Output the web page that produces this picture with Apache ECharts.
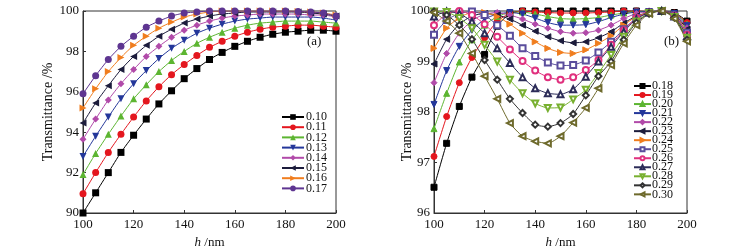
<!DOCTYPE html>
<html style="height: 100%">
<head>
	<meta charset="utf-8">
</head>
<body style="height: 100%; margin: 0; background: #fff">
<div id="container" style="width: 750px; height: 246px"></div>
<script type="text/javascript" src="https://cdn.jsdelivr.net/npm/echarts@6/dist/echarts.min.js"></script>
<script type="text/javascript">
    var dom = document.getElementById("container");
    var myChart = echarts.init(dom);

    // h /nm
    var hx = [100, 105, 110, 115, 120, 125, 130, 135, 140, 145, 150, 155, 160, 165, 170, 175, 180, 185, 190, 195, 200];

    // panel (a)
    var namesA = ['0.10', '0.11', '0.12', '0.13', '0.14', '0.15', '0.16', '0.17'];
    var a010 = [90.0, 91.0, 92.0, 93.0, 93.85, 94.65, 95.4, 96.05, 96.65, 97.15, 97.6, 97.95, 98.25, 98.5, 98.7, 98.85, 98.95, 99.0, 99.05, 99.05, 99.0];
    var a011 = [90.95, 92.0, 93.0, 93.9, 94.75, 95.55, 96.25, 96.85, 97.35, 97.8, 98.2, 98.5, 98.75, 98.95, 99.1, 99.2, 99.25, 99.3, 99.3, 99.25, 99.2];
    var a012 = [91.9, 92.95, 93.9, 94.8, 95.65, 96.35, 97.0, 97.55, 98.0, 98.4, 98.7, 98.95, 99.15, 99.3, 99.4, 99.45, 99.5, 99.5, 99.5, 99.45, 99.4];
    var a013 = [92.8, 93.8, 94.75, 95.65, 96.4, 97.05, 97.65, 98.15, 98.55, 98.9, 99.15, 99.35, 99.5, 99.6, 99.65, 99.7, 99.7, 99.7, 99.7, 99.65, 99.55];
    var a014 = [93.65, 94.65, 95.6, 96.4, 97.1, 97.75, 98.25, 98.7, 99.05, 99.3, 99.5, 99.65, 99.75, 99.8, 99.85, 99.85, 99.85, 99.85, 99.8, 99.8, 99.7];
    var a015 = [94.45, 95.45, 96.3, 97.1, 97.75, 98.3, 98.75, 99.1, 99.4, 99.6, 99.75, 99.85, 99.9, 99.95, 99.95, 99.95, 99.95, 99.95, 99.9, 99.85, 99.75];
    var a016 = [95.2, 96.15, 97.0, 97.7, 98.3, 98.75, 99.15, 99.45, 99.7, 99.85, 99.95, 100, 100, 100, 100, 100, 100, 99.98, 99.95, 99.9, 99.8];
    var a017 = [95.9, 96.8, 97.6, 98.25, 98.75, 99.2, 99.5, 99.75, 99.9, 99.95, 100, 100, 100, 100, 100, 100, 100, 99.98, 99.95, 99.9, 99.75];

    // panel (b)
    var namesB = ['0.18', '0.19', '0.20', '0.21', '0.22', '0.23', '0.24', '0.25', '0.26', '0.27', '0.28', '0.29', '0.30'];
    var b018 = [96.51, 97.38, 98.11, 98.69, 99.14, 99.7, 99.95, 100, 100, 100, 100, 100, 100, 100, 100, 100, 100, 99.99, 100, 99.97, 99.8];
    var b019 = [97.12, 97.91, 98.58, 99.08, 99.47, 99.8, 99.95, 100, 99.98, 99.97, 99.96, 99.96, 99.96, 99.97, 99.98, 100, 100, 99.99, 100, 99.96, 99.77];
    var b020 = [97.67, 98.37, 98.99, 99.43, 99.72, 99.89, 99.97, 99.98, 99.94, 99.89, 99.85, 99.84, 99.85, 99.87, 99.92, 99.96, 99.99, 99.99, 100, 99.96, 99.74];
    var b021 = [98.15, 98.82, 99.3, 99.62, 99.84, 99.94, 99.97, 99.94, 99.86, 99.77, 99.72, 99.72, 99.73, 99.79, 99.87, 99.94, 99.98, 99.99, 100, 99.95, 99.71];
    var b022 = [98.58, 99.16, 99.56, 99.81, 99.94, 99.97, 99.92, 99.84, 99.74, 99.66, 99.59, 99.56, 99.57, 99.62, 99.72, 99.85, 99.95, 99.98, 100, 99.94, 99.67];
    var b023 = [98.95, 99.44, 99.74, 99.9, 99.95, 99.92, 99.84, 99.72, 99.6, 99.49, 99.41, 99.37, 99.39, 99.47, 99.59, 99.76, 99.9, 99.97, 100, 99.93, 99.64];
    var b024 = [99.26, 99.66, 99.87, 99.97, 99.97, 99.89, 99.74, 99.56, 99.39, 99.26, 99.18, 99.16, 99.23, 99.36, 99.51, 99.72, 99.89, 99.97, 100, 99.92, 99.6];
    var b025 = [99.53, 99.82, 99.95, 99.99, 99.92, 99.72, 99.51, 99.26, 99.11, 98.98, 98.92, 98.93, 99.02, 99.18, 99.39, 99.64, 99.86, 99.97, 100, 99.91, 99.57];
    var b026 = [99.72, 99.94, 100, 99.92, 99.74, 99.49, 99.24, 99.01, 98.82, 98.69, 98.64, 98.69, 98.83, 99.03, 99.33, 99.62, 99.86, 99.97, 100, 99.9, 99.53];
    var b027 = [99.89, 99.99, 99.95, 99.79, 99.56, 99.26, 98.97, 98.69, 98.47, 98.37, 98.35, 98.45, 98.7, 99.0, 99.29, 99.59, 99.84, 99.97, 100, 99.89, 99.5];
    var b028 = [99.99, 99.98, 99.86, 99.66, 99.33, 99.0, 98.64, 98.37, 98.17, 98.08, 98.09, 98.25, 98.44, 98.77, 99.13, 99.49, 99.79, 99.96, 100, 99.88, 99.47];
    var b029 = [99.99, 99.92, 99.72, 99.44, 99.03, 98.64, 98.26, 97.98, 97.75, 97.71, 97.78, 97.96, 98.33, 98.71, 99.0, 99.43, 99.77, 99.95, 100, 99.87, 99.43];
    var b030 = [99.97, 99.8, 99.56, 99.16, 98.71, 98.26, 97.78, 97.52, 97.42, 97.38, 97.52, 97.79, 98.08, 98.47, 98.93, 99.36, 99.72, 99.95, 100, 99.85, 99.4];

    var seriesA = [a010, a011, a012, a013, a014, a015, a016, a017];
    var seriesB = [b018, b019, b020, b021, b022, b023, b024, b025, b026, b027, b028, b029, b030];

    var colorsA = ['#000000', '#e4161e', '#5cb531', '#24379a', '#b14aa9', '#1c1c3c', '#f07d1e', '#5e3591'];
    var symbolsA = [['rect', 0], ['circle', 0], ['triangle', 0], ['triangle', 180], ['diamond', 0], ['triangle', 90], ['triangle', -90], ['circle', 0]];
    var colorsB = ['#000000', '#e4161e', '#5cb531', '#24379a', '#b14aa9', '#1c1c3c', '#f07d1e', '#5a4d9c', '#e0307e', '#2c2c58', '#78b030', '#333333', '#6e6a2c'];
    var symbolsB = [['rect', 0], ['circle', 0], ['triangle', 0], ['triangle', 180], ['diamond', 0], ['triangle', 90], ['triangle', -90],
        ['emptyRect', 0], ['emptyCircle', 0], ['emptyTriangle', 0], ['emptyTriangle', 180], ['emptyDiamond', 0], ['emptyTriangle', 90]];

    var serif = 'Liberation Serif';

    function zip(vals) {
        return hx.map(function (h, i) { return [h, vals[i]]; });
    }

    var series = [];
    seriesA.forEach(function (vals, i) {
        series.push({
            name: namesA[i], type: 'line', xAxisIndex: 0, yAxisIndex: 0,
            data: zip(vals), smooth: 0.2,
            symbol: symbolsA[i][0], symbolRotate: symbolsA[i][1], symbolSize: 7,
            lineStyle: { color: colorsA[i], width: 1 },
            itemStyle: { color: colorsA[i] }
        });
    });
    seriesB.forEach(function (vals, i) {
        series.push({
            name: namesB[i], type: 'line', xAxisIndex: 1, yAxisIndex: 1,
            data: zip(vals), smooth: 0.2,
            symbol: symbolsB[i][0], symbolRotate: symbolsB[i][1], symbolSize: 6,
            lineStyle: { color: colorsB[i], width: 1 },
            itemStyle: { color: colorsB[i], borderColor: colorsB[i], borderWidth: 1 }
        });
    });

    // one legend per entry so the rows can sit tight like the original
    var legends = [];
    namesA.forEach(function (n, i) {
        legends.push({
            data: [n], left: 281, top: 111 + i * 10.2, padding: 0,
            itemWidth: 22, itemHeight: 7, itemGap: 0,
            textStyle: { fontFamily: serif, fontSize: 12, color: '#111', padding: [0, 0, 0, -3] }
        });
    });
    namesB.forEach(function (n, i) {
        legends.push({
            data: [n], left: 633, top: 80 + i * 9.03, padding: 0,
            itemWidth: 17, itemHeight: 5, itemGap: 0,
            textStyle: { fontFamily: serif, fontSize: 12, color: '#111', padding: [0, 0, 0, -4] }
        });
    });

    function xAxis(idx) {
        return {
            type: 'value', gridIndex: idx, min: 100, max: 200, interval: 20,
            name: '{i|h} /nm', nameLocation: 'middle', nameGap: 18,
            nameTextStyle: { fontFamily: serif, fontSize: 13, color: '#111', rich: { i: { fontFamily: serif, fontStyle: 'italic', fontSize: 13, color: '#111' } } },
            axisLine: { lineStyle: { color: '#333' } },
            axisTick: { inside: true, length: 3, lineStyle: { color: '#333' } },
            axisLabel: { fontFamily: serif, fontSize: 13, color: '#111', margin: 5 },
            splitLine: { show: false }
        };
    }
    function yAxis(idx, min, max, step) {
        return {
            type: 'value', gridIndex: idx, min: min, max: max, interval: step,
            name: 'Transmittance /%', nameLocation: 'middle', nameGap: idx === 0 ? 28 : 20,
            nameMoveOverlap: false,
            nameTextStyle: { fontFamily: serif, fontSize: 14, color: '#111' },
            axisLine: { show: true, lineStyle: { color: '#333' } },
            axisTick: { show: true, inside: true, length: 3, lineStyle: { color: '#333' } },
            axisLabel: { fontFamily: serif, fontSize: 13, color: '#111', margin: 4 },
            splitLine: { show: false }
        };
    }

    var option = {
        backgroundColor: '#fff',
        animation: false,
        grid: [
            { left: 83, top: 11, width: 253, height: 202, outerBoundsMode: 'none', show: true, borderColor: '#333', borderWidth: 1 },
            { left: 434, top: 11, width: 253, height: 202, outerBoundsMode: 'none', show: true, borderColor: '#333', borderWidth: 1 }
        ],
        xAxis: [xAxis(0), xAxis(1)],
        yAxis: [yAxis(0, 90, 100, 2), yAxis(1, 96, 100, 1)],
        legend: legends,
        graphic: [
            { type: 'text', left: 307, top: 35, style: { text: '(a)', font: '13px "Liberation Serif"', fill: '#111' } },
            { type: 'text', left: 664, top: 35, style: { text: '(b)', font: '13px "Liberation Serif"', fill: '#111' } }
        ],
        series: series
    };

    myChart.setOption(option, true);
</script>
</body>
</html>
